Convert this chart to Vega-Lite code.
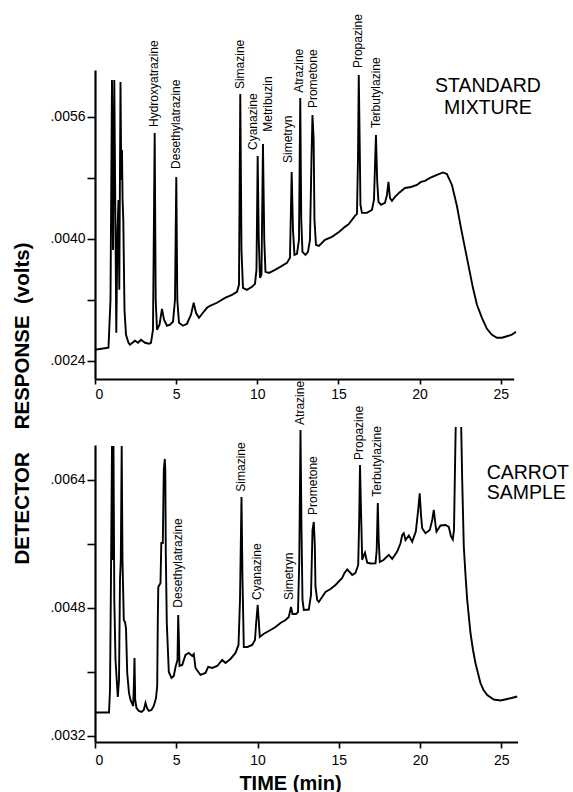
{
  "$schema": "https://vega.github.io/schema/vega-lite/v6.json",
  "padding": {"left": 13, "top": 14, "right": 2, "bottom": 0},
  "background": "white",
  "config": {
    "view": {"stroke": null},
    "axis": {"grid": false, "domainColor": "black", "tickColor": "black", "labelColor": "black", "labelFont": "Liberation Sans", "titleFont": "Liberation Sans", "titleColor": "black", "domainWidth": 2.2, "tickWidth": 1.6, "labelFontSize": 14},
    "text": {"font": "Liberation Sans", "color": "black"}
  },
  "title": {"text": "DETECTOR\u00a0\u00a0\u00a0\u00a0RESPONSE\u00a0\u00a0(volts)", "orient": "left", "anchor": "middle", "font": "Liberation Sans", "fontSize": 20.5, "fontWeight": "bold", "color": "black", "offset": 16},
  "datasets": {
    "std": [
      {"t":0.00,"v":0.002543},{"t":0.83,"v":0.00257},{"t":0.955,"v":0.003198},{"t":1.047,"v":0.006078},{"t":1.109,"v":0.003852},{"t":1.189,"v":0.006078},{"t":1.312,"v":0.002766},{"t":1.386,"v":0.004114},{"t":1.448,"v":0.004507},{"t":1.497,"v":0.003329},{"t":1.571,"v":0.006052},{"t":1.62,"v":0.004769},{"t":1.663,"v":0.005161},{"t":1.70,"v":0.004507},{"t":1.744,"v":0.004245},{"t":1.817,"v":0.003067},{"t":1.91,"v":0.00274},{"t":2.064,"v":0.002635},{"t":2.156,"v":0.002609},{"t":2.464,"v":0.002661},{"t":2.649,"v":0.002635},{"t":2.834,"v":0.002674},{"t":3.081,"v":0.002635},{"t":3.327,"v":0.002622},{"t":3.45,"v":0.002635},{"t":3.573,"v":0.002805},{"t":3.678,"v":0.005384},{"t":3.74,"v":0.003198},{"t":3.82,"v":0.002805},{"t":3.974,"v":0.002871},{"t":4.128,"v":0.00308},{"t":4.251,"v":0.002936},{"t":4.436,"v":0.002858},{"t":4.621,"v":0.002871},{"t":4.806,"v":0.00291},{"t":4.929,"v":0.003198},{"t":5.009,"v":0.004808},{"t":5.071,"v":0.003198},{"t":5.175,"v":0.002897},{"t":5.422,"v":0.002858},{"t":5.668,"v":0.002884},{"t":5.915,"v":0.003002},{"t":6.081,"v":0.003159},{"t":6.223,"v":0.003028},{"t":6.407,"v":0.002962},{"t":6.654,"v":0.003028},{"t":6.9,"v":0.003093},{"t":7.085,"v":0.003119},{"t":7.516,"v":0.003159},{"t":8.009,"v":0.003224},{"t":8.441,"v":0.003263},{"t":8.749,"v":0.003303},{"t":8.872,"v":0.003394},{"t":8.952,"v":0.005895},{"t":9.026,"v":0.003852},{"t":9.118,"v":0.003355},{"t":9.365,"v":0.003329},{"t":9.673,"v":0.003368},{"t":9.858,"v":0.003407},{"t":9.95,"v":0.003591},{"t":10.024,"v":0.005083},{"t":10.092,"v":0.003983},{"t":10.166,"v":0.003486},{"t":10.258,"v":0.003525},{"t":10.35,"v":0.00524},{"t":10.43,"v":0.003983},{"t":10.504,"v":0.003565},{"t":10.72,"v":0.003551},{"t":11.09,"v":0.003591},{"t":11.521,"v":0.003643},{"t":11.829,"v":0.003682},{"t":12.014,"v":0.003748},{"t":12.119,"v":0.004874},{"t":12.199,"v":0.004114},{"t":12.291,"v":0.003787},{"t":12.445,"v":0.0038},{"t":12.568,"v":0.003983},{"t":12.648,"v":0.005842},{"t":12.71,"v":0.004245},{"t":12.784,"v":0.003826},{"t":12.969,"v":0.003787},{"t":13.123,"v":0.003826},{"t":13.246,"v":0.003983},{"t":13.338,"v":0.005031},{"t":13.4,"v":0.00562},{"t":13.474,"v":0.005292},{"t":13.523,"v":0.004245},{"t":13.616,"v":0.003918},{"t":13.8,"v":0.003905},{"t":14.17,"v":0.003983},{"t":14.601,"v":0.004023},{"t":15.033,"v":0.004088},{"t":15.403,"v":0.004154},{"t":15.649,"v":0.004193},{"t":16.019,"v":0.004298},{"t":16.142,"v":0.004324},{"t":16.204,"v":0.005031},{"t":16.253,"v":0.006143},{"t":16.308,"v":0.005292},{"t":16.357,"v":0.004442},{"t":16.45,"v":0.004337},{"t":16.758,"v":0.004337},{"t":17.066,"v":0.004376},{"t":17.189,"v":0.004507},{"t":17.312,"v":0.005358},{"t":17.386,"v":0.004769},{"t":17.466,"v":0.004481},{"t":17.62,"v":0.004442},{"t":17.866,"v":0.004468},{"t":17.989,"v":0.004572},{"t":18.082,"v":0.004743},{"t":18.174,"v":0.004533},{"t":18.297,"v":0.004494},{"t":18.483,"v":0.004546},{"t":18.729,"v":0.004599},{"t":19.099,"v":0.004664},{"t":19.468,"v":0.004677},{"t":19.838,"v":0.004703},{"t":20.084,"v":0.004743},{"t":20.331,"v":0.004756},{"t":20.639,"v":0.004795},{"t":21.07,"v":0.004834},{"t":21.44,"v":0.004867},{"t":21.686,"v":0.004847},{"t":21.994,"v":0.004703},{"t":22.302,"v":0.004428},{"t":22.549,"v":0.00414},{"t":22.795,"v":0.003879},{"t":23.042,"v":0.003617},{"t":23.288,"v":0.003355},{"t":23.535,"v":0.003133},{"t":23.843,"v":0.002962},{"t":24.151,"v":0.002818},{"t":24.459,"v":0.00274},{"t":24.767,"v":0.002701},{"t":25.075,"v":0.002701},{"t":25.383,"v":0.00272},{"t":25.691,"v":0.00274},{"t":25.937,"v":0.002779}
    ],
    "carrot": [
      {"t":0.03,"v":0.003494,"s":1},{"t":0.862,"v":0.003494,"s":1},{"t":0.923,"v":0.003775,"s":1},{"t":0.972,"v":0.0049,"s":1},{"t":1.046,"v":0.006825,"s":1},{"t":1.089,"v":0.0054,"s":1},{"t":1.138,"v":0.006825,"s":1},{"t":1.188,"v":0.0049,"s":1},{"t":1.262,"v":0.00415,"s":1},{"t":1.403,"v":0.003688,"s":1},{"t":1.477,"v":0.0039,"s":1},{"t":1.538,"v":0.00515,"s":1},{"t":1.588,"v":0.0054,"s":1},{"t":1.643,"v":0.006825,"s":1},{"t":1.692,"v":0.0054,"s":1},{"t":1.772,"v":0.00465,"s":1},{"t":1.846,"v":0.004625,"s":1},{"t":1.908,"v":0.00455,"s":1},{"t":1.982,"v":0.003988,"s":1},{"t":2.092,"v":0.003738,"s":1},{"t":2.185,"v":0.00365,"s":1},{"t":2.351,"v":0.003575,"s":1},{"t":2.4,"v":0.0039,"s":1},{"t":2.431,"v":0.004175,"s":1},{"t":2.474,"v":0.00365,"s":1},{"t":2.554,"v":0.00355,"s":1},{"t":2.695,"v":0.003513,"s":1},{"t":2.862,"v":0.0035,"s":1},{"t":3.003,"v":0.003525,"s":1},{"t":3.108,"v":0.003613,"s":1},{"t":3.2,"v":0.00355,"s":1},{"t":3.311,"v":0.003513,"s":1},{"t":3.477,"v":0.003525,"s":1},{"t":3.618,"v":0.003575,"s":1},{"t":3.754,"v":0.003675,"s":1},{"t":3.828,"v":0.003825,"s":1},{"t":3.865,"v":0.00465,"s":1},{"t":3.895,"v":0.005063,"s":1},{"t":4.031,"v":0.005113,"s":1},{"t":4.08,"v":0.005613,"s":1},{"t":4.172,"v":0.005613,"s":1},{"t":4.234,"v":0.006525,"s":1},{"t":4.295,"v":0.006663,"s":1},{"t":4.326,"v":0.006525,"s":1},{"t":4.357,"v":0.005488,"s":1},{"t":4.418,"v":0.004613,"s":1},{"t":4.542,"v":0.004,"s":1},{"t":4.708,"v":0.003925,"s":1},{"t":4.849,"v":0.00395,"s":1},{"t":4.954,"v":0.004063,"s":1},{"t":5.077,"v":0.00415,"s":1},{"t":5.12,"v":0.004713,"s":1},{"t":5.163,"v":0.0044,"s":1},{"t":5.2,"v":0.004075,"s":1},{"t":5.366,"v":0.004088,"s":1},{"t":5.569,"v":0.004213,"s":1},{"t":5.772,"v":0.004238,"s":1},{"t":5.981,"v":0.0042,"s":1},{"t":6.08,"v":0.004225,"s":1},{"t":6.185,"v":0.00405,"s":1},{"t":6.492,"v":0.003963,"s":1},{"t":6.8,"v":0.003988,"s":1},{"t":6.966,"v":0.004063,"s":1},{"t":7.212,"v":0.00405,"s":1},{"t":7.52,"v":0.004075,"s":1},{"t":7.828,"v":0.00415,"s":1},{"t":8.031,"v":0.004113,"s":1},{"t":8.338,"v":0.004163,"s":1},{"t":8.646,"v":0.004238,"s":1},{"t":8.831,"v":0.004338,"s":1},{"t":8.923,"v":0.0049,"s":1},{"t":9.015,"v":0.006188,"s":1},{"t":9.077,"v":0.00515,"s":1},{"t":9.157,"v":0.004313,"s":1},{"t":9.385,"v":0.004313,"s":1},{"t":9.674,"v":0.004338,"s":1},{"t":9.846,"v":0.0044,"s":1},{"t":9.908,"v":0.004588,"s":1},{"t":10.012,"v":0.004838,"s":1},{"t":10.074,"v":0.00465,"s":1},{"t":10.141,"v":0.004438,"s":1},{"t":10.369,"v":0.004475,"s":1},{"t":10.8,"v":0.004525,"s":1},{"t":11.108,"v":0.004563,"s":1},{"t":11.415,"v":0.004613,"s":1},{"t":11.723,"v":0.00465,"s":1},{"t":11.926,"v":0.004688,"s":1},{"t":12.062,"v":0.004813,"s":1},{"t":12.154,"v":0.004725,"s":1},{"t":12.369,"v":0.004725,"s":1},{"t":12.492,"v":0.00475,"s":1},{"t":12.572,"v":0.0054,"s":1},{"t":12.646,"v":0.007025,"s":1},{"t":12.708,"v":0.005775,"s":1},{"t":12.769,"v":0.0049,"s":1},{"t":12.849,"v":0.004775,"s":1},{"t":13.157,"v":0.004781,"s":1},{"t":13.292,"v":0.004963,"s":1},{"t":13.385,"v":0.005775,"s":1},{"t":13.465,"v":0.005875,"s":1},{"t":13.526,"v":0.005588,"s":1},{"t":13.569,"v":0.005063,"s":1},{"t":13.674,"v":0.0049,"s":1},{"t":13.772,"v":0.004875,"s":1},{"t":14.185,"v":0.005,"s":1},{"t":14.492,"v":0.005038,"s":1},{"t":14.8,"v":0.005088,"s":1},{"t":15.212,"v":0.005175,"s":1},{"t":15.354,"v":0.005238,"s":1},{"t":15.52,"v":0.005281,"s":1},{"t":15.662,"v":0.00525,"s":1},{"t":15.828,"v":0.005213,"s":1},{"t":16.031,"v":0.005238,"s":1},{"t":16.197,"v":0.005338,"s":1},{"t":16.258,"v":0.0059,"s":1},{"t":16.308,"v":0.006588,"s":1},{"t":16.369,"v":0.006025,"s":1},{"t":16.443,"v":0.0054,"s":1},{"t":16.523,"v":0.00545,"s":1},{"t":16.615,"v":0.005491,"s":1},{"t":16.751,"v":0.005366,"s":1},{"t":16.954,"v":0.005356,"s":1},{"t":17.262,"v":0.005359,"s":1},{"t":17.335,"v":0.005525,"s":1},{"t":17.403,"v":0.006113,"s":1},{"t":17.458,"v":0.00565,"s":1},{"t":17.526,"v":0.005375,"s":1},{"t":17.754,"v":0.0054,"s":1},{"t":18.08,"v":0.005463,"s":1},{"t":18.289,"v":0.005413,"s":1},{"t":18.597,"v":0.005504,"s":1},{"t":18.8,"v":0.005609,"s":1},{"t":18.905,"v":0.005713,"s":1},{"t":19.003,"v":0.005734,"s":1},{"t":19.108,"v":0.00565,"s":1},{"t":19.311,"v":0.005706,"s":1},{"t":19.52,"v":0.005629,"s":1},{"t":19.742,"v":0.005754,"s":1},{"t":19.889,"v":0.006025,"s":1},{"t":19.982,"v":0.006234,"s":1},{"t":20.062,"v":0.005963,"s":1},{"t":20.135,"v":0.005796,"s":1},{"t":20.338,"v":0.005734,"s":1},{"t":20.603,"v":0.005775,"s":1},{"t":20.751,"v":0.0059,"s":1},{"t":20.849,"v":0.006025,"s":1},{"t":20.954,"v":0.005838,"s":1},{"t":21.015,"v":0.005754,"s":1},{"t":21.262,"v":0.005831,"s":1},{"t":21.569,"v":0.005838,"s":1},{"t":21.772,"v":0.005813,"s":1},{"t":21.908,"v":0.005694,"s":1},{"t":22.018,"v":0.005656,"s":1},{"t":22.092,"v":0.005775,"s":1},{"t":22.142,"v":0.0064,"s":1},{"t":22.197,"v":0.007063,"s":1},
      {"t":22.535,"v":0.007063,"s":2},{"t":22.597,"v":0.0064,"s":2},{"t":22.695,"v":0.005566,"s":2},{"t":22.8,"v":0.005213,"s":2},{"t":22.905,"v":0.0049,"s":2},{"t":23.108,"v":0.004484,"s":2},{"t":23.262,"v":0.004275,"s":2},{"t":23.415,"v":0.004109,"s":2},{"t":23.723,"v":0.003859,"s":2},{"t":23.908,"v":0.003775,"s":2},{"t":24.135,"v":0.003713,"s":2},{"t":24.541,"v":0.003656,"s":2},{"t":24.954,"v":0.003644,"s":2},{"t":25.366,"v":0.003663,"s":2},{"t":25.631,"v":0.003675,"s":2},{"t":25.982,"v":0.003694,"s":2}
    ],
    "stdLabels": [
      {"name":"Hydroxyatrazine","t":3.617,"v":0.005463},
      {"name":"Desethylatrazine","t":4.99,"v":0.004913},
      {"name":"Simazine","t":8.915,"v":0.00596},
      {"name":"Cyanazine","t":9.734,"v":0.005161},
      {"name":"Metribuzin","t":10.659,"v":0.005401},
      {"name":"Simetryn","t":11.891,"v":0.004991},
      {"name":"Atrazine","t":12.6,"v":0.005912},
      {"name":"Prometone","t":13.462,"v":0.005711},
      {"name":"Propazine","t":16.203,"v":0.006235},
      {"name":"Terbutylazine","t":17.3,"v":0.005449}
    ],
    "carrotLabels": [
      {"name":"Desethylatrazine","t":5.108,"v":0.004804},
      {"name":"Simazine","t":8.985,"v":0.006254},
      {"name":"Cyanazine","t":9.969,"v":0.0049},
      {"name":"Simetryn","t":11.908,"v":0.0049},
      {"name":"Atrazine","t":12.615,"v":0.007088},
      {"name":"Prometone","t":13.415,"v":0.005963},
      {"name":"Propazine","t":16.246,"v":0.00665},
      {"name":"Terbutylazine","t":17.354,"v":0.00619}
    ],
    "stdName": [
      {"name":"STANDARD","t":24.21,"v":0.005999},
      {"name":"MIXTURE","t":24.21,"v":0.005711}
    ],
    "carrotName": [
      {"name":"CARROT","t":24.1,"v":0.006488},
      {"name":"SAMPLE","t":24.1,"v":0.006238}
    ]
  },
  "spacing": 66,
  "bounds": "flush",
  "vconcat": [
    {
      "width": 418.7,
      "height": 309,
      "layer": [
        {
          "data": {"name": "std"},
          "mark": {"type": "line", "color": "black", "strokeWidth": 1.9, "clip": false},
          "encoding": {
            "x": {"field": "t", "type": "quantitative", "scale": {"domain": [0, 25.8], "nice": false, "zero": false},
                  "axis": {"values": [0, 5, 10, 15, 20, 25], "title": null, "tickSize": 5, "labelPadding": 3}},
            "y": {"field": "v", "type": "quantitative", "scale": {"domain": [0.00216, 0.00621], "nice": false, "zero": false},
                  "axis": {"values": [0.0024, 0.0032, 0.004, 0.0048, 0.0056], "title": null, "tickSize": 8, "labelPadding": 2,
                           "labelExpr": "round(datum.value/0.0008) % 2 == 1 ? replace(format(datum.value, '.4f'), '0.', '.') : ''"}}
          }
        },
        {
          "data": {"name": "stdLabels"},
          "mark": {"type": "text", "angle": 270, "align": "left", "baseline": "middle", "fontSize": 12, "font": "Liberation Sans"},
          "encoding": {
            "x": {"field": "t", "type": "quantitative", "scale": {"domain": [0, 25.8], "nice": false, "zero": false}},
            "y": {"field": "v", "type": "quantitative", "scale": {"domain": [0.00216, 0.00621], "nice": false, "zero": false}},
            "text": {"field": "name"}
          }
        },
        {
          "data": {"name": "stdName"},
          "mark": {"type": "text", "align": "center", "baseline": "middle", "fontSize": 19.5, "font": "Liberation Sans"},
          "encoding": {
            "x": {"field": "t", "type": "quantitative", "scale": {"domain": [0, 25.8], "nice": false, "zero": false}},
            "y": {"field": "v", "type": "quantitative", "scale": {"domain": [0.00216, 0.00621], "nice": false, "zero": false}},
            "text": {"field": "name"}
          }
        }
      ]
    },
    {
      "width": 422.5,
      "height": 297,
      "layer": [
        {
          "data": {"name": "carrot"},
          "mark": {"type": "line", "color": "black", "strokeWidth": 1.9, "clip": false},
          "encoding": {
            "x": {"field": "t", "type": "quantitative", "scale": {"domain": [0, 26], "nice": false, "zero": false},
                  "axis": {"values": [0, 5, 10, 15, 20, 25], "title": "TIME (min)", "tickSize": 6, "labelPadding": 5,
                           "titleFontSize": 20, "titleFontWeight": "bold", "titleX": 195, "titleY": 47, "titleAlign": "center", "titleBaseline": "alphabetic"}},
            "y": {"field": "v", "type": "quantitative", "scale": {"domain": [0.003125, 0.006837], "nice": false, "zero": false},
                  "axis": {"values": [0.0032, 0.004, 0.0048, 0.0056, 0.0064], "title": null, "tickSize": 8, "labelPadding": 2,
                           "labelExpr": "round(datum.value/0.0008) % 2 == 0 ? replace(format(datum.value, '.4f'), '0.', '.') : ''"}},
            "detail": {"field": "s", "type": "nominal"}
          }
        },
        {
          "data": {"name": "carrotLabels"},
          "mark": {"type": "text", "angle": 270, "align": "left", "baseline": "middle", "fontSize": 12, "font": "Liberation Sans"},
          "encoding": {
            "x": {"field": "t", "type": "quantitative", "scale": {"domain": [0, 26], "nice": false, "zero": false}},
            "y": {"field": "v", "type": "quantitative", "scale": {"domain": [0.003125, 0.006837], "nice": false, "zero": false}},
            "text": {"field": "name"}
          }
        },
        {
          "data": {"name": "carrotName"},
          "mark": {"type": "text", "align": "left", "baseline": "middle", "fontSize": 19.5, "font": "Liberation Sans"},
          "encoding": {
            "x": {"field": "t", "type": "quantitative", "scale": {"domain": [0, 26], "nice": false, "zero": false}},
            "y": {"field": "v", "type": "quantitative", "scale": {"domain": [0.003125, 0.006837], "nice": false, "zero": false}},
            "text": {"field": "name"}
          }
        }
      ]
    }
  ]
}
